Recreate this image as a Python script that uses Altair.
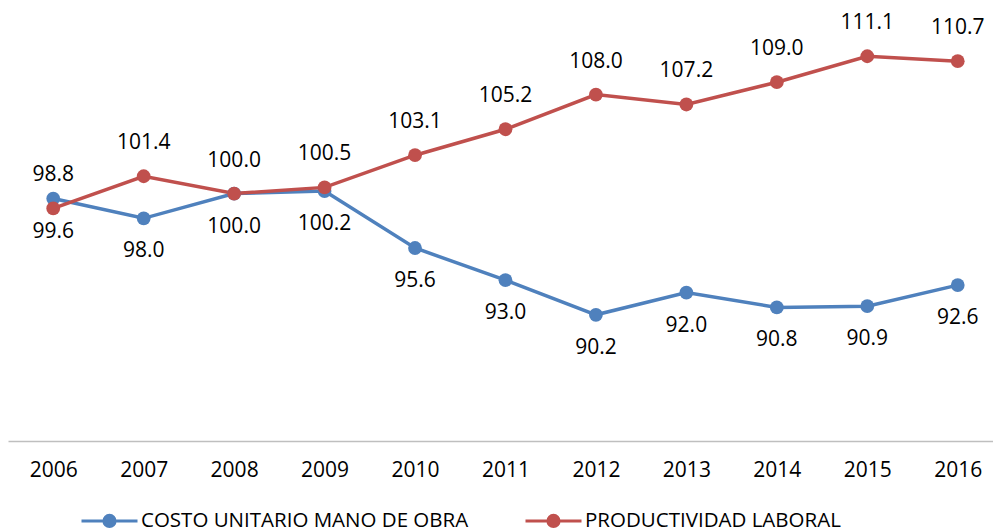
import altair as alt
import pandas as pd

years = [2006, 2007, 2008, 2009, 2010, 2011, 2012, 2013, 2014, 2015, 2016]
costo = [99.6, 98.0, 100.0, 100.2, 95.6, 93.0, 90.2, 92.0, 90.8, 90.9, 92.6]
productividad = [98.8, 101.4, 100.0, 100.5, 103.1, 105.2, 108.0, 107.2, 109.0, 111.1, 110.7]

S1 = "COSTO UNITARIO MANO DE OBRA"
S2 = "PRODUCTIVIDAD LABORAL"

rows = []
for y, a, b in zip(years, costo, productividad):
    rows.append({"year": y, "serie": S1, "value": a})
    rows.append({"year": y, "serie": S2, "value": b})
df = pd.DataFrame(rows)

FONT = "Open Sans"
BLUE = "#4F81BD"
RED = "#C0504D"

legend_path = ("M-1,0L1,0"
               "M0.2,0A0.2,0.2,0,1,1,-0.2,0A0.2,0.2,0,1,1,0.2,0"
               "M0.12,0A0.12,0.12,0,1,1,-0.12,0A0.12,0.12,0,1,1,0.12,0"
               "M0.04,0A0.04,0.04,0,1,1,-0.04,0A0.04,0.04,0,1,1,0.04,0")

x = alt.X("year:Q",
          scale=alt.Scale(domain=[2005.5, 2016.39], nice=False, zero=False),
          axis=alt.Axis(values=years, format="d", title=None, grid=False, ticks=False,
                        domainColor="#BFBFBF", domainWidth=1.5, labelFontSize=21,
                        labelFont=FONT, labelColor="#000000", labelPadding=18))
y = alt.Y("value:Q", scale=alt.Scale(domain=[80, 115], nice=False, zero=False), axis=None)
color = alt.Color("serie:N",
                  scale=alt.Scale(domain=[S1, S2], range=[BLUE, RED]),
                  legend=alt.Legend(title=None, orient="none", direction="horizontal",
                                    legendX=72, legendY=483,
                                    symbolType=legend_path, symbolSize=3136,
                                    symbolStrokeWidth=3, labelFontSize=20.5, labelFont=FONT,
                                    labelColor="#000000", columnPadding=50, labelOffset=2,
                                    labelLimit=1000))

base = alt.Chart(df)
lines = base.mark_line(strokeWidth=3.5).encode(x=x, y=y, color=color)
points = base.mark_point(filled=True, size=190, opacity=1).encode(
    x=x, y=y, color=alt.Color("serie:N", scale=alt.Scale(domain=[S1, S2], range=[BLUE, RED]), legend=None))
lab_blue = base.transform_filter(alt.datum.serie == S1).mark_text(
    dy=33, fontSize=21, font=FONT, color="#000000", baseline="middle").encode(
    x=x, y=y, text=alt.Text("value:Q", format=".1f"))
lab_red = base.transform_filter(alt.datum.serie == S2).mark_text(
    dy=-33, fontSize=21, font=FONT, color="#000000", baseline="middle").encode(
    x=x, y=y, text=alt.Text("value:Q", format=".1f"))

chart = alt.layer(lines, points, lab_blue, lab_red).properties(
    width=985, height=433,
    padding={"left": 0, "top": 0, "right": 0, "bottom": 0},
).configure_view(stroke=None)

chart.save("out.html", embed_options={"renderer": "svg", "actions": False})
